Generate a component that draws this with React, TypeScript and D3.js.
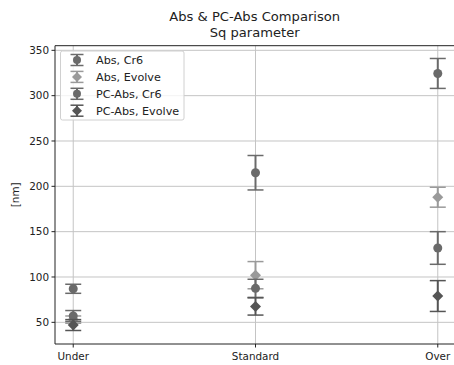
import React from "react";
import * as d3 from "d3";

const categories = ["Under", "Standard", "Over"];
const seriesNames = ["Abs, Cr6", "Abs, Evolve", "PC-Abs, Cr6", "PC-Abs, Evolve"];
const absCr6 = [87, 215, 324.5];
const absCr6Err = [5, 19, 16.5];
const absEvolve = [53, 102, 188];
const absEvolveErr = [4, 15, 11];
const pcAbsCr6 = [57, 87.5, 132];
const pcAbsCr6Err = [6, 10, 18];
const pcAbsEvolve = [47, 67.5, 79];
const pcAbsEvolveErr = [6, 9.5, 17];
const yTicks = [50, 100, 150, 200, 250, 300, 350];

const seriesValues = [absCr6, absEvolve, pcAbsCr6, pcAbsEvolve];
const seriesErrs = [absCr6Err, absEvolveErr, pcAbsCr6Err, pcAbsEvolveErr];
const colors = ["#6a6a6a", "#9a9a9a", "#6a6a6a", "#555555"];
const shapes = ["circle", "diamond", "circle", "diamond"];

const W = 454, H = 365;
const L = 55, R = 456, T = 45.7, B = 344;

export default function App() {
  const x = d3.scaleLinear().domain([-0.1, 2.1]).range([L, R]);
  const y = d3.scaleLinear().domain([26.1, 355.1]).range([B, T]);
  const font = "DejaVu Sans, sans-serif";
  const diamond = (cx: number, cy: number, r: number) =>
    `M${cx},${cy - r}L${cx + r},${cy}L${cx},${cy + r}L${cx - r},${cy}Z`;
  const marker = (s: number, cx: number, cy: number) =>
    shapes[s] === "circle" ? (
      <circle cx={cx} cy={cy} r={4.5} fill={colors[s]} />
    ) : (
      <path d={diamond(cx, cy, 5.5)} fill={colors[s]} />
    );
  const capW = 8;
  return (
    <svg width={W} height={H} style={{ position: "absolute", left: 0, top: 0 }}>
      <rect width={W} height={H} fill="#fff" />
      <text x={254.7} y={20.5} textAnchor="middle" fontFamily={font} fontSize={13.1} fill="#222">
        Abs &amp; PC-Abs Comparison
      </text>
      <text x={254.7} y={36.5} textAnchor="middle" fontFamily={font} fontSize={13.1} fill="#222">
        Sq parameter
      </text>
      {/* grid */}
      {yTicks.map((t) => (
        <line key={"gy" + t} x1={L} x2={R} y1={y(t)} y2={y(t)} stroke="#c4c4c4" strokeWidth={1} />
      ))}
      {categories.map((c, i) => (
        <line key={"gx" + c} x1={x(i)} x2={x(i)} y1={T} y2={B} stroke="#c4c4c4" strokeWidth={1} />
      ))}
      {/* data */}
      {seriesValues.map((vals, s) => (
        <g key={"s" + s}>
          {vals.map((v, i) => {
            const e = seriesErrs[s][i];
            const cx = x(i);
            return (
              <g key={i}>
                <line x1={cx} x2={cx} y1={y(v - e)} y2={y(v + e)} stroke={colors[s]} strokeWidth={2} />
                <line x1={cx - capW} x2={cx + capW} y1={y(v - e)} y2={y(v - e)} stroke={colors[s]} strokeWidth={1.5} />
                <line x1={cx - capW} x2={cx + capW} y1={y(v + e)} y2={y(v + e)} stroke={colors[s]} strokeWidth={1.5} />
                {marker(s, cx, y(v))}
              </g>
            );
          })}
        </g>
      ))}
      {/* spines */}
      <line x1={L} x2={L} y1={T} y2={B} stroke="#222" strokeWidth={1} />
      <line x1={L} x2={R} y1={B} y2={B} stroke="#222" strokeWidth={1} />
      <line x1={L} x2={R} y1={T} y2={T} stroke="#222" strokeWidth={1} />
      {/* y ticks */}
      {yTicks.map((t) => (
        <g key={"ty" + t}>
          <line x1={L - 3.5} x2={L} y1={y(t)} y2={y(t)} stroke="#222" />
          <text x={L - 6} y={y(t)} dy="0.35em" textAnchor="end" fontFamily={font} fontSize={10.4} fill="#222">
            {t}
          </text>
        </g>
      ))}
      {categories.map((c, i) => (
        <g key={"tx" + c}>
          <line x1={x(i)} x2={x(i)} y1={B} y2={B + 3.5} stroke="#222" />
          <text x={x(i)} y={B + 16} textAnchor="middle" fontFamily={font} fontSize={10.4} fill="#222">
            {c}
          </text>
        </g>
      ))}
      <text
        transform={`translate(19,${(T + B) / 2}) rotate(-90)`}
        textAnchor="middle"
        fontFamily={font}
        fontSize={10.4}
        fill="#222"
      >
        [nm]
      </text>
      {/* legend */}
      <rect x={60.5} y={51} width={123.5} height={69} rx={2} fill="#fff" fillOpacity={0.8} stroke="#d0d0d0" />
      {seriesNames.map((n, s) => {
        const ly = 60 + s * 16.9;
        const lx = 77;
        return (
          <g key={"lg" + s}>
            <line x1={lx} x2={lx} y1={ly - 5.5} y2={ly + 5.5} stroke={colors[s]} strokeWidth={2} />
            <line x1={lx - 6.5} x2={lx + 6.5} y1={ly - 5.5} y2={ly - 5.5} stroke={colors[s]} strokeWidth={1.5} />
            <line x1={lx - 6.5} x2={lx + 6.5} y1={ly + 5.5} y2={ly + 5.5} stroke={colors[s]} strokeWidth={1.5} />
            {shapes[s] === "circle" ? (
              <circle cx={lx} cy={ly} r={4} fill={colors[s]} />
            ) : (
              <path d={diamond(lx, ly, 5)} fill={colors[s]} />
            )}
            <text x={96} y={ly} dy="0.35em" fontFamily={font} fontSize={11.2} fill="#222">
              {n}
            </text>
          </g>
        );
      })}
    </svg>
  );
}
